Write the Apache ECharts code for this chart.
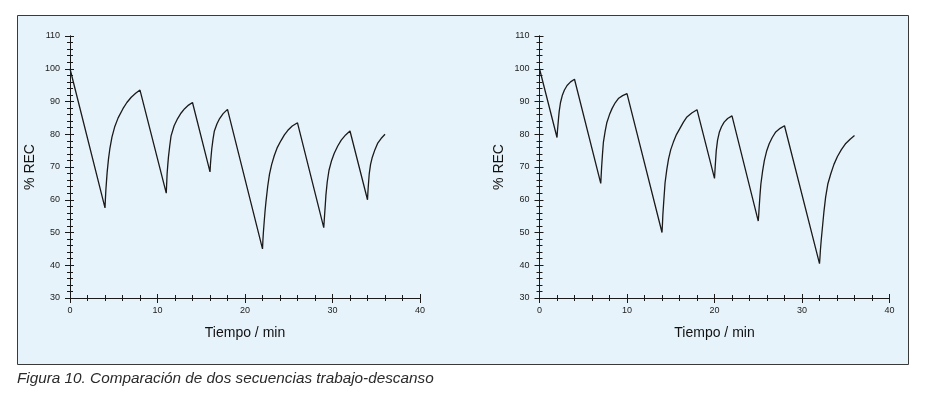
<!DOCTYPE html>
<html>
<head>
<meta charset="utf-8">
<script src="https://cdn.jsdelivr.net/npm/echarts@6/dist/echarts.min.js"></script>
<style>
  html, body { margin: 0; padding: 0; background: #fff; }
  #chart { width: 941px; height: 397px; }
</style>
</head>
<body>
<div id="chart"></div>
<script>
// values: [tiempo (min), % REC]
const secuenciaA = [
  [0, 100],
  [4, 57.5], [4.05, 60.5], [4.1, 63], [4.18, 66], [4.25, 68.5], [4.4, 72.5], [4.55, 75.5], [4.8, 79.2],
  [5.1, 82.2], [5.5, 85], [6.05, 87.8], [6.5, 89.7], [7, 91.3], [7.5, 92.5], [8, 93.5],
  [11, 62], [11.05, 65], [11.1, 68], [11.18, 70.8], [11.25, 73], [11.4, 76.5], [11.55, 79.5], [11.9, 82.6],
  [12.3, 84.8], [12.7, 86.5], [13.1, 87.8], [13.55, 88.9], [14, 89.7],
  [16, 68.5], [16.05, 70.8], [16.1, 72.5], [16.2, 75.5], [16.35, 78.6], [16.5, 81], [16.8, 83.2],
  [17.1, 84.8], [17.5, 86.3], [18, 87.6],
  [22, 45], [22.05, 47.8], [22.1, 50], [22.2, 53.5], [22.3, 56.8], [22.4, 59.5], [22.6, 64.2], [22.8, 67.8],
  [23.05, 70.8], [23.35, 73.5], [23.7, 76], [24.1, 78], [24.5, 79.8], [24.9, 81.2], [25.4, 82.5], [26, 83.5],
  [29, 51.5], [29.05, 53.5], [29.1, 55.5], [29.18, 58.6], [29.25, 61.5], [29.4, 65.5], [29.6, 69], [29.9, 72],
  [30.2, 74.2], [30.6, 76.4], [31, 78.2], [31.5, 79.8], [32, 81],
  [34, 60], [34.05, 62.5], [34.1, 64.5], [34.2, 68], [34.35, 70.8], [34.55, 73], [34.85, 75.3],
  [35.15, 77.2], [35.55, 78.7], [36, 80]
];
const secuenciaB = [
  [0, 100],
  [2, 79], [2.05, 81], [2.1, 82.5], [2.18, 85], [2.25, 87], [2.4, 89.7], [2.6, 91.8], [2.85, 93.5],
  [3.15, 94.9], [3.55, 96], [4, 96.8],
  [7, 65], [7.05, 67.5], [7.1, 70], [7.2, 74], [7.3, 77.5], [7.5, 80.9], [7.7, 83.6], [8, 86],
  [8.3, 87.9], [8.65, 89.6], [9.05, 91], [9.5, 91.8], [10, 92.4],
  [14, 50], [14.05, 52.5], [14.1, 55.5], [14.2, 59.5], [14.35, 65.2], [14.55, 69.3], [14.75, 72.5], [15, 75.3],
  [15.3, 77.6], [15.65, 79.9], [16.05, 81.8], [16.45, 83.7], [16.85, 85.3], [17.4, 86.5], [18, 87.5],
  [20, 66.5], [20.05, 68.8], [20.1, 71], [20.2, 75], [20.35, 78.2], [20.55, 80.6], [20.8, 82.3],
  [21.1, 83.7], [21.5, 84.8], [22, 85.6],
  [25, 53.5], [25.05, 55.3], [25.1, 57.5], [25.2, 61.5], [25.3, 64.8], [25.5, 68.8], [25.7, 72], [25.95, 74.8],
  [26.25, 77.1], [26.6, 79], [27, 80.7], [27.5, 81.8], [28, 82.6],
  [32, 40.5], [32.05, 42.3], [32.1, 44.5], [32.2, 47.8], [32.35, 52], [32.5, 56.2], [32.7, 60.8], [32.95, 64.8],
  [33.3, 68], [33.65, 70.8], [34.05, 73.2], [34.5, 75.3], [35, 77.2], [35.5, 78.5], [36, 79.6]
];
const ejeX = { min: 0, max: 40, interval: 10, nombre: 'Tiempo / min' };
const ejeY = { min: 30, max: 110, interval: 10, nombre: '% REC' };
const pie = 'Figura 10. Comparación de dos secuencias trabajo-descanso';

const fuente = '"Liberation Sans", Arial, sans-serif';
const ink = '#1a1a1a';

function xAxes(grid) {
  const base = {
    type: 'value', gridIndex: grid, position: 'bottom',
    min: ejeX.min, max: ejeX.max, interval: ejeX.interval,
    splitLine: { show: false },
    axisLine: { lineStyle: { color: ink, width: 1 } },
    minorTick: { show: true, splitNumber: 5, length: 3, lineStyle: { color: ink } }
  };
  return [
    Object.assign({}, base, {
      axisTick: { length: 5, lineStyle: { color: ink } },
      axisLabel: { fontFamily: fuente, fontSize: 9, color: '#222', margin: 8 },
      name: ejeX.nombre, nameLocation: 'middle', nameGap: 28,
      nameTextStyle: { fontFamily: fuente, fontSize: 14, color: '#111' }
    }),
    Object.assign({}, base, {
      axisTick: { inside: true, length: 4, lineStyle: { color: ink } },
      axisLabel: { show: false }
    })
  ];
}
function yAxes(grid) {
  const base = {
    type: 'value', gridIndex: grid, position: 'left',
    min: ejeY.min, max: ejeY.max, interval: ejeY.interval,
    splitLine: { show: false },
    axisLine: { lineStyle: { color: ink, width: 1 } },
    minorTick: { show: true, splitNumber: 5, length: 3, lineStyle: { color: ink } }
  };
  return [
    Object.assign({}, base, {
      axisTick: { length: 5, lineStyle: { color: ink } },
      axisLabel: { fontFamily: fuente, fontSize: 9, color: '#222', margin: 10 },
      name: ejeY.nombre, nameLocation: 'middle', nameGap: 33,
      nameTextStyle: { fontFamily: fuente, fontSize: 14, color: '#111' }
    }),
    Object.assign({}, base, {
      axisTick: { inside: true, length: 4, lineStyle: { color: ink } },
      axisLabel: { show: false }
    })
  ];
}

const chart = echarts.init(document.getElementById('chart'), null, { renderer: 'canvas' });
chart.setOption({
  animation: false,
  backgroundColor: '#fff',
  graphic: [
    { type: 'rect', z: -10, shape: { x: 17.5, y: 15.5, width: 891, height: 349 },
      style: { fill: '#e7f3fa', stroke: '#3a3a3a', lineWidth: 1 } },
    { type: 'text', left: 17, top: 371,
      style: { text: pie, fontFamily: fuente, fontStyle: 'italic', fontSize: 15.3, fill: '#2a2a2a' } }
  ],
  grid: [
    { left: 70, top: 36, width: 350, height: 262 },
    { left: 539.5, top: 36, width: 350, height: 262 }
  ],
  xAxis: xAxes(0).concat(xAxes(1)),
  yAxis: yAxes(0).concat(yAxes(1)),
  series: [
    { type: 'line', xAxisIndex: 0, yAxisIndex: 0, data: secuenciaA, showSymbol: false,
      lineStyle: { color: ink, width: 1.3 }, z: 5 },
    { type: 'line', xAxisIndex: 2, yAxisIndex: 2, data: secuenciaB, showSymbol: false,
      lineStyle: { color: ink, width: 1.3 }, z: 5 }
  ]
});
</script>
</body>
</html>
